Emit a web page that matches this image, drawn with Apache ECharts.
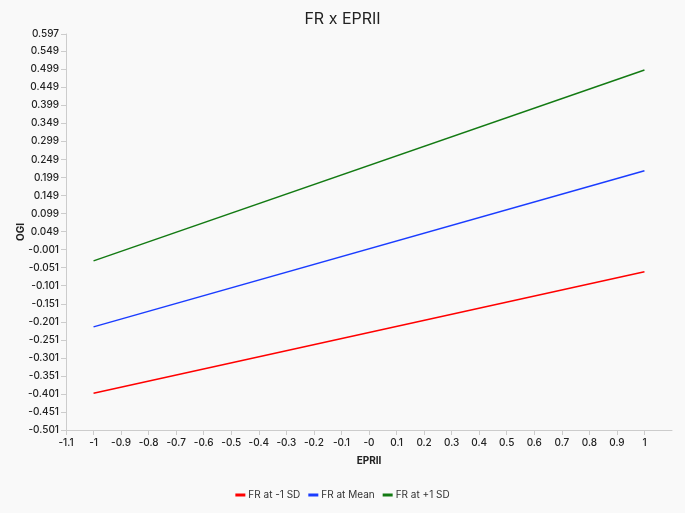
<!DOCTYPE html>
<html>
<head>
<meta charset="utf-8">
<script src="https://cdn.jsdelivr.net/npm/echarts@6/dist/echarts.min.js"></script>
<style>html,body{margin:0;padding:0;background:#f9f9f9}#c{width:685px;height:513px}</style>
</head>
<body>
<div id="c"></div>
<script>
const xValues = [-1, 1];
const seriesNames = ['FR at -1 SD', 'FR at Mean', 'FR at +1 SD'];
const lowSD = [-0.399, -0.062];
const meanVals = [-0.215, 0.218];
const highSD = [-0.032, 0.497];
const xTicks = [-1.1, -1.0, -0.9, -0.8, -0.7, -0.6, -0.5, -0.4, -0.3, -0.2, -0.1, -0.0000001, 0.1, 0.2, 0.3, 0.4, 0.5, 0.6, 0.7, 0.8, 0.9, 1.0];
const yTicks = [-0.501, -0.451, -0.401, -0.351, -0.301, -0.251, -0.201, -0.151, -0.101, -0.051, -0.001, 0.049, 0.099, 0.149, 0.199, 0.249, 0.299, 0.349, 0.399, 0.449, 0.499, 0.549, 0.597];
const colors = ['#ff0000', '#1a3cff', '#137a13'];

const font = 'Inter, "Noto Sans", sans-serif';
function pairs(vals) { return xValues.map((x, i) => [x, vals[i]]); }
function fmtX(v) {
  const r = Math.round(v * 10) / 10;
  if (r === 0) return v < 0 ? '-0' : '0';
  return String(r);
}
const chart = echarts.init(document.getElementById('c'));
chart.setOption({
  backgroundColor: '#f9f9f9',
  animation: false,
  title: {
    text: 'FR x EPRII', left: 'center', top: 6,
    textStyle: { fontFamily: font, fontSize: 16, fontWeight: 'normal', color: '#222' }
  },
  legend: {
    bottom: 8, left: 'center', icon: 'rect', itemWidth: 10, itemHeight: 3, itemGap: 8,
    textStyle: { fontFamily: font, fontSize: 10, color: '#333', padding: [0, 0, 0, -2] },
    data: seriesNames
  },
  grid: { left: 66, right: 13, top: 34, bottom: 83, containLabel: false },
  xAxis: {
    type: 'value', min: -1.1, max: 1.1,
    name: 'EPRII', nameLocation: 'middle', nameGap: 26, nameMoveOverlap: false,
    nameTextStyle: { fontFamily: font, fontSize: 10, fontWeight: 'bold', color: '#222' },
    splitLine: { show: false },
    axisLine: { onZero: false, lineStyle: { color: '#ccc' } },
    axisTick: { show: true, customValues: xTicks, length: 5, lineStyle: { color: '#ccc' } },
    axisLabel: { customValues: xTicks, formatter: fmtX, fontFamily: font, fontSize: 10, fontWeight: 500, color: '#222', margin: 8 }
  },
  yAxis: {
    type: 'value', min: -0.501, max: 0.597,
    name: 'OGI', nameLocation: 'middle', nameGap: 40, nameMoveOverlap: false,
    nameTextStyle: { fontFamily: font, fontSize: 10, fontWeight: 'bold', color: '#222' },
    splitLine: { show: false },
    axisLine: { show: true, onZero: false, lineStyle: { color: '#ccc' } },
    axisTick: { show: true, customValues: yTicks, length: 5, lineStyle: { color: '#ccc' } },
    axisLabel: { customValues: yTicks, formatter: v => v.toFixed(3), fontFamily: font, fontSize: 10, fontWeight: 500, color: '#222', margin: 7 }
  },
  series: [
    { name: seriesNames[0], type: 'line', data: pairs(lowSD), showSymbol: false, lineStyle: { width: 1.5, color: colors[0] }, itemStyle: { color: colors[0] } },
    { name: seriesNames[1], type: 'line', data: pairs(meanVals), showSymbol: false, lineStyle: { width: 1.5, color: colors[1] }, itemStyle: { color: colors[1] } },
    { name: seriesNames[2], type: 'line', data: pairs(highSD), showSymbol: false, lineStyle: { width: 1.5, color: colors[2] }, itemStyle: { color: colors[2] } }
  ]
});
</script>
</body>
</html>
